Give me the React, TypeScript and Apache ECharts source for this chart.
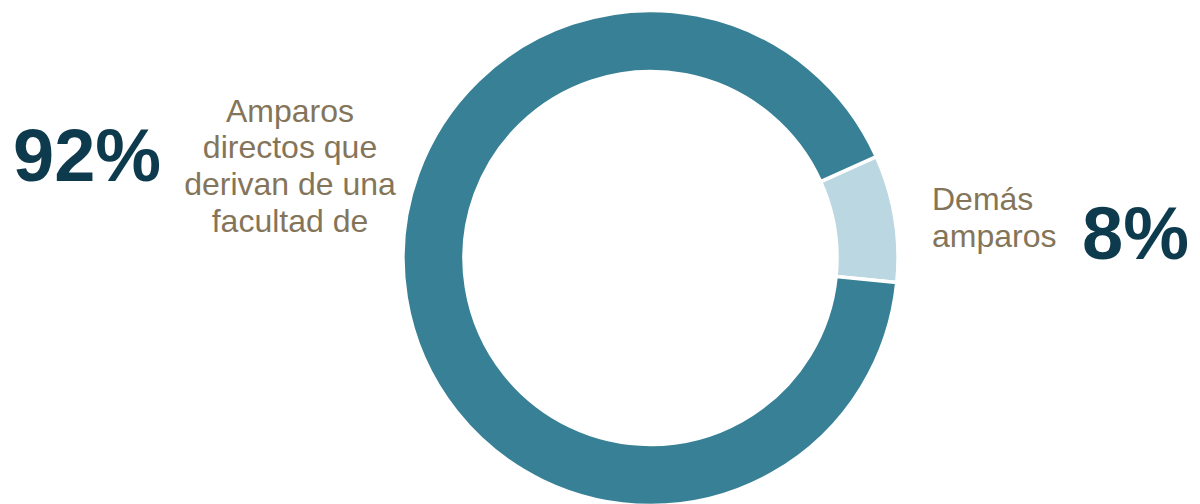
import React, { useEffect, useRef } from "react";
import * as echarts from "echarts";

const categories = ["Demás amparos", "Amparos directos que derivan de una facultad de"];
const values = [8.3, 91.7];
const sliceColors = ["#BAD7E2", "#378095"];
const leftLabelLines = ["Amparos", "directos que", "derivan de una", "facultad de"];
const rightLabelLines = ["Demás", "amparos"];

const TAN = "#84755A";
const DARK = "#0E3A4E";
const FONT = "'Liberation Sans', Arial, sans-serif";

export default function App() {
  const ref = useRef<HTMLDivElement>(null);

  useEffect(() => {
    document.body.style.margin = "0";
    const chart = echarts.init(ref.current!, null, { renderer: "svg" });

    const graphics: any[] = [];
    // Big percentages
    graphics.push({
      type: "text",
      left: undefined,
      x: 13,
      y: 155,
      silent: true,
      style: {
        text: `${Math.round(values[1])}%`,
        fill: DARK,
        font: `bold 74px ${FONT}`,
        textAlign: "left",
        textVerticalAlign: "middle",
      },
    });
    graphics.push({
      type: "text",
      x: 1082,
      y: 233,
      silent: true,
      style: {
        text: `${Math.round(values[0])}%`,
        fill: DARK,
        font: `bold 74px ${FONT}`,
        textAlign: "left",
        textVerticalAlign: "middle",
      },
    });
    leftLabelLines.forEach((line, i) => {
      graphics.push({
        type: "text",
        x: 290,
        y: 110.6 + i * 36.7,
        silent: true,
        style: {
          text: line,
          fill: TAN,
          font: `32px ${FONT}`,
          textAlign: "center",
          textVerticalAlign: "middle",
        },
      });
    });
    rightLabelLines.forEach((line, i) => {
      graphics.push({
        type: "text",
        x: 932,
        y: 199 + i * 36.7,
        silent: true,
        style: {
          text: line,
          fill: TAN,
          font: `32px ${FONT}`,
          textAlign: "left",
          textVerticalAlign: "middle",
        },
      });
    });

    chart.setOption({
      animation: false,
      backgroundColor: "#ffffff",
      series: [
        {
          type: "pie",
          center: [650.5, 258],
          radius: [186.5, 247.5],
          startAngle: 24.2,
          clockwise: true,
          silent: true,
          label: { show: false },
          labelLine: { show: false },
          emphasis: { disabled: true },
          itemStyle: { borderColor: "#ffffff", borderWidth: 3.5 },
          data: categories.map((name, i) => ({
            name,
            value: values[i],
            itemStyle: { color: sliceColors[i] },
          })),
        },
      ],
      graphic: graphics,
    });

    return () => chart.dispose();
  }, []);

  return <div ref={ref} style={{ width: 1200, height: 504 }} />;
}
